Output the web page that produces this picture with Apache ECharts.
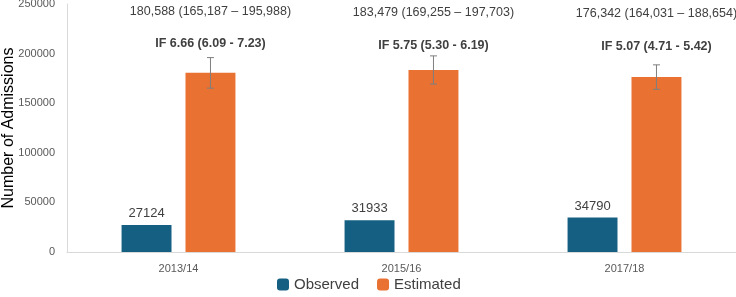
<!DOCTYPE html>
<html>
<head>
<meta charset="utf-8">
<script src="https://cdn.jsdelivr.net/npm/echarts@6/dist/echarts.min.js"></script>
<style>
html,body{margin:0;padding:0;background:#fff;}
#main{width:736px;height:297px;}
</style>
</head>
<body>
<div id="main"></div>
<script>
var periods = ['2013/14', '2015/16', '2017/18'];
var observed = [27124, 31933, 34790];
var estimated = [180588, 183479, 176342];
var estLow = [165187, 169255, 164031];
var estHigh = [195988, 197703, 188654];
var ifText = ['IF 6.66 (6.09 - 7.23)', 'IF 5.75 (5.30 - 6.19)', 'IF 5.07 (4.71 - 5.42)'];

var myChart = echarts.init(document.getElementById('main'));
var font = 'Liberation Sans, Arial, sans-serif';

function fmt(n) {
    return n.toLocaleString('en-US');
}

var errData = periods.map(function (p, i) {
    return [i, estLow[i], estHigh[i], estimated[i]];
});

option = {
    animation: false,
    textStyle: {fontFamily: font},
    grid: {left: 67, right: 0, top: 4, bottom: 45, containLabel: false, outerBoundsMode: 'none'},
    legend: {
        bottom: 0,
        left: 272,
        itemWidth: 12,
        itemHeight: 12,
        itemGap: 18,
        textStyle: {fontSize: 15, color: '#404040', fontFamily: font},
        data: ['Observed', 'Estimated']
    },
    xAxis: {
        type: 'category',
        data: periods,
        axisLine: {lineStyle: {color: '#d9d9d9'}},
        axisTick: {show: false},
        axisLabel: {color: '#595959', fontSize: 11, margin: 11}
    },
    yAxis: {
        type: 'value',
        min: 0,
        max: 250000,
        interval: 50000,
        name: 'Number of Admissions',
        nameLocation: 'middle',
        nameGap: 50,
        nameMoveOverlap: false,
        nameTextStyle: {fontSize: 16, color: '#000'},
        axisLine: {show: true, lineStyle: {color: '#d9d9d9'}},
        axisTick: {show: false},
        splitLine: {show: false},
        axisLabel: {color: '#595959', fontSize: 11, margin: 12, formatter: function (v) { return String(v); }}
    },
    series: [
        {
            name: 'Observed',
            type: 'bar',
            data: observed,
            barWidth: '22.4%',
            barGap: '28%',
            itemStyle: {color: '#156082'},
            label: {show: true, position: 'top', color: '#404040', fontSize: 13, distance: 5}
        },
        {
            name: 'Estimated',
            type: 'bar',
            data: estimated,
            barWidth: '22.4%',
            itemStyle: {color: '#E97132'}
        },
        {
            name: 'err',
            type: 'custom',
            data: errData,
            z: 10,
            renderItem: function (params, api) {
                var i = api.value(0);
                var band = api.size([1, 0])[0];
                var w = band * 0.224;
                var off = w * 0.64;
                var lo = api.coord([i, api.value(1)]);
                var hi = api.coord([i, api.value(2)]);
                var x = lo[0] + off;
                var cap = 3.5;
                var st = {stroke: '#7f7f7f', lineWidth: 1};
                return {
                    type: 'group',
                    children: [
                        {type: 'line', shape: {x1: x, y1: lo[1], x2: x, y2: hi[1]}, style: st},
                        {type: 'line', shape: {x1: x - cap, y1: lo[1], x2: x + cap, y2: lo[1]}, style: st},
                        {type: 'line', shape: {x1: x - cap, y1: hi[1], x2: x + cap, y2: hi[1]}, style: st},
                        {type: 'text', style: {
                            x: x, y: 12 + i,
                            text: fmt(estimated[i]) + ' (' + fmt(estLow[i]) + ' \u2013 ' + fmt(estHigh[i]) + ')',
                            fill: '#404040', font: '12.5px ' + font,
                            align: 'center', verticalAlign: 'middle'
                        }},
                        {type: 'text', style: {
                            x: x, y: 44 + i * 1.5,
                            text: ifText[i],
                            fill: '#404040', font: 'bold 12.5px ' + font,
                            align: 'center', verticalAlign: 'middle'
                        }}
                    ]
                };
            }
        }
    ]
};

myChart.setOption(option);
</script>
</body>
</html>
